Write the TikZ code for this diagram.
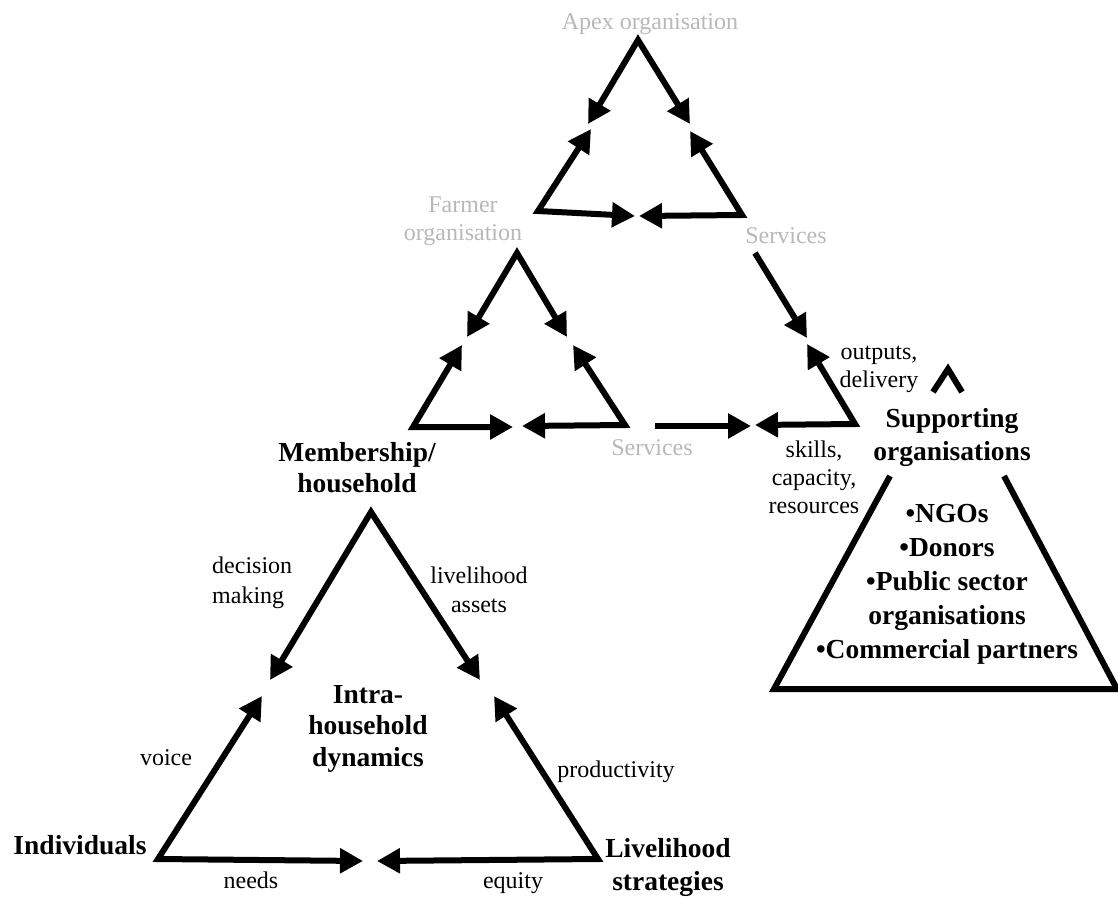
\documentclass[tikz,border=0pt]{standalone}
\usepackage{fontspec}
\setmainfont{Liberation Serif}
\usetikzlibrary{arrows.meta}
\definecolor{paleorg}{gray}{0.72}

\begin{document}
\begin{tikzpicture}[x=1pt,y=-1pt,
  >={Triangle[length=23pt,width=24pt]},
  flow/.style={line width=6pt, line join=miter},
  lbl/.style={inner sep=0pt, anchor=base, align=center, font=\fontsize{24}{28}\selectfont},
  org/.style={lbl, text=paleorg},
  key/.style={inner sep=0pt, anchor=base, align=center, font=\fontsize{27.5}{32}\selectfont\bfseries},
]
\useasboundingbox (0,0) rectangle (1118,897);

% ---- apex organisation triangle ----
\coordinate (apexTop) at (638,40);
\coordinate (apexL) at (538,211);
\coordinate (apexR) at (742,215);
\coordinate (apexTipDL) at (588,124);
\coordinate (apexTipDR) at (690,124);
\coordinate (apexTipUL) at (591,129);
\coordinate (apexTipUR) at (690,131);
\coordinate (apexTipBL) at (635,216);
\coordinate (apexTipBR) at (639,216);
\draw[flow,<->] (apexTipDL) -- (apexTop) -- (apexTipDR);
\draw[flow,<->] (apexTipUL) -- (apexL) -- (apexTipBL);
\draw[flow,<->] (apexTipUR) -- (apexR) -- (apexTipBR);

% ---- farmer organisation triangle ----
\coordinate (farmTop) at (517,253);
\coordinate (farmL) at (413,427);
\coordinate (farmR) at (625,425);
\coordinate (farmTipDL) at (467,337);
\coordinate (farmTipDR) at (567,337);
\coordinate (farmTipUL) at (462,345);
\coordinate (farmTipUR) at (573,345);
\coordinate (farmTipBL) at (513,427);
\coordinate (farmTipBR) at (522,426);
\draw[flow,<->] (farmTipDL) -- (farmTop) -- (farmTipDR);
\draw[flow,<->] (farmTipUL) -- (farmL) -- (farmTipBL);
\draw[flow,<->] (farmTipUR) -- (farmR) -- (farmTipBR);

% ---- links to the supporting organisations ----
\coordinate (servTopStart) at (755,253);
\coordinate (servTopTip) at (807,338);
\coordinate (suppCorner) at (855,424);
\coordinate (suppTipUp) at (807,344);
\coordinate (servLowStart) at (655,426);
\coordinate (servLowTip) at (751,426);
\coordinate (suppTipLeft) at (755,425);
\draw[flow,->] (servTopStart) -- (servTopTip);
\draw[flow,<->] (suppTipUp) -- (suppCorner) -- (suppTipLeft);
\draw[flow,->] (servLowStart) -- (servLowTip);

% caret above the supporting organisations
\draw[flow] (933,392) -- (948,369) -- (962,392);

% ---- supporting organisations (open-topped triangle) ----
\coordinate (suppTL) at (890,476);
\coordinate (suppBL) at (774,689);
\coordinate (suppBR) at (1117,689);
\coordinate (suppTR) at (1004,476);
\draw[flow] (suppTL) -- (suppBL) -- (suppBR) -- (suppTR);

% ---- intra-household triangle ----
\coordinate (hhTop) at (371,512);
\coordinate (hhL) at (158,859);
\coordinate (hhR) at (598,859);
\coordinate (hhTipDL) at (270,680);
\coordinate (hhTipDR) at (480,680);
\coordinate (hhTipUL) at (262,696);
\coordinate (hhTipUR) at (494,696);
\coordinate (hhTipBL) at (363,861);
\coordinate (hhTipBR) at (377,861);
\draw[flow,<->] (hhTipDL) -- (hhTop) -- (hhTipDR);
\draw[flow,<->] (hhTipUL) -- (hhL) -- (hhTipBL);
\draw[flow,<->] (hhTipUR) -- (hhR) -- (hhTipBR);

% ---- labels (base anchor sits on the last line) ----
\node[org] (apexLabel) at (650,29) {Apex organisation};
\node[org] (farmLabel) at (463,240) {Farmer\\organisation};
\node[org] (servTopLabel) at (786,243) {Services};
\node[org] (servLowLabel) at (652,455) {Services};

\node[lbl] (outputsLabel) at (879,387) {outputs,\\delivery};
\node[lbl] (skillsLabel) at (814,513) {skills,\\capacity,\\resources};
\node[key, font=\fontsize{27.5}{33}\selectfont\bfseries] (suppLabel) at (952,460) {Supporting\\organisations};
\node[key, font=\fontsize{27.5}{34}\selectfont\bfseries] (suppList) at (947,658)
  {•NGOs\\•Donors\\•Public sector\\organisations\\•Commercial partners};

\node[key, font=\fontsize{27.5}{31}\selectfont\bfseries] (memberLabel) at (357,492) {Membership/\\household};
\node[lbl, anchor=base west, align=left, font=\fontsize{24}{30}\selectfont] (decisionLabel) at (212,603) {decision\\making};
\node[lbl, font=\fontsize{24}{29}\selectfont] (assetsLabel) at (479,612) {livelihood\\assets};
\node[lbl] (voiceLabel) at (166,765) {voice};
\node[key, font=\fontsize{27.5}{31.5}\selectfont\bfseries] (intraLabel) at (368,766) {Intra-\\household\\dynamics};
\node[lbl] (prodLabel) at (616,777) {productivity};
\node[key] (indivLabel) at (80,854) {Individuals};
\node[key, font=\fontsize{27.5}{33}\selectfont\bfseries] (strategyLabel) at (668,890) {Livelihood\\strategies};
\node[lbl] (needsLabel) at (251,888) {needs};
\node[lbl] (equityLabel) at (513,888) {equity};
\end{tikzpicture}
\end{document}
